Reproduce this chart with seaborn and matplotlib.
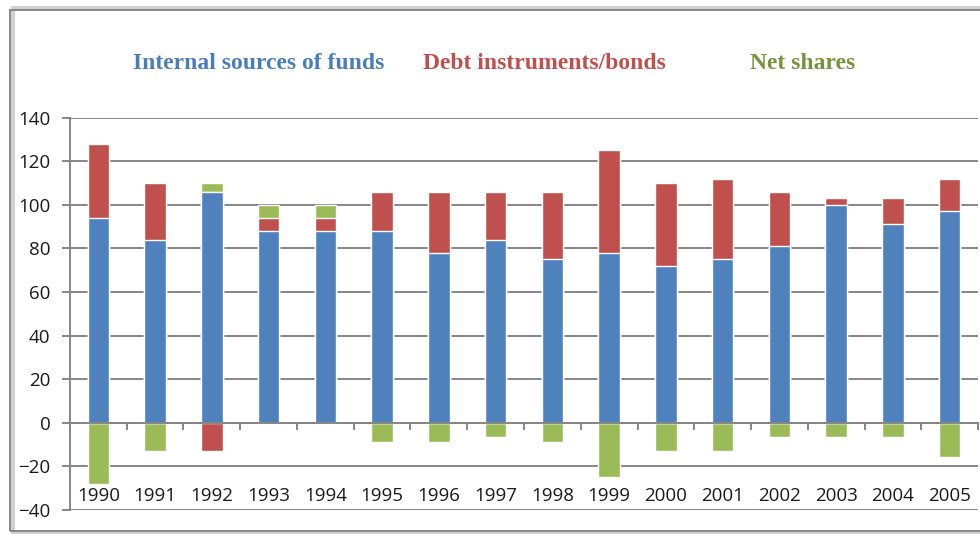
import numpy as np
import pandas as pd
import seaborn as sns
import matplotlib.pyplot as plt
from matplotlib.patches import Rectangle
from matplotlib.ticker import MultipleLocator


# values
years = [str(y) for y in range(1990, 2006)]
internal = [94, 84, 106, 88, 88, 88, 78, 84, 75, 78, 72, 75, 81, 100, 91, 97]
debt = [34, 26, -13, 6, 6, 18, 28, 22, 31, 47, 38, 37, 25, 3, 12, 15]
shares = [-28, -13, 4, 6, 6, -9, -9, -6.5, -9, -25, -13, -13, -6.5, -6.5, -6.5, -15.5]

series = ["Internal sources of funds", "Debt instruments/bonds", "Net shares"]
bar_colors = ["#4F81BD", "#C0504D", "#9BBB59"]
text_colors = ["#4A7EBB", "#C0504D", "#77933C"]

df = pd.DataFrame({"year": years, "internal": internal, "debt": debt, "shares": shares})

# stacked bars drawn as nested cumulative bars, outermost first
df["pos_red"] = df["internal"] + df["debt"].clip(lower=0)
df["pos_green"] = df["pos_red"] + df["shares"].clip(lower=0)
df["neg_red"] = df["debt"].clip(upper=0)
df["neg_green"] = df["neg_red"] + df["shares"].clip(upper=0)

layers = [("pos_green", bar_colors[2]), ("pos_red", bar_colors[1]), ("internal", bar_colors[0]),
          ("neg_green", bar_colors[2]), ("neg_red", bar_colors[1])]

sns.set_theme(style="white")
plt.rcParams["font.family"] = ["Open Sans", "DejaVu Sans"]

fig = plt.figure(figsize=(9.8, 5.34), dpi=100)
ax = fig.add_axes([0.0714, 0.0449, 0.9266, 0.7347])

for col, c in layers:
    sns.barplot(data=df, x="year", y=col, color=c, width=0.38,
                errorbar=None, saturation=1, ax=ax, zorder=3)

ax.set_xlim(-0.5, len(years) - 0.5)
ax.set_ylim(-40, 140)
ax.yaxis.set_major_locator(MultipleLocator(20))
ax.grid(axis="y", color="#868686", linewidth=1.4, zorder=0)
ax.set_axisbelow(True)
ax.set_xlabel("")
ax.set_ylabel("")

for s in ["top", "right"]:
    ax.spines[s].set_visible(False)
ax.spines["left"].set_color("#868686")
ax.spines["left"].set_linewidth(1.4)
ax.spines["bottom"].set_position(("data", 0))
ax.spines["bottom"].set_color("#868686")
ax.spines["bottom"].set_linewidth(1.4)
ax.spines["bottom"].set_zorder(4)

ax.tick_params(axis="y", left=True, length=6, width=1.4, color="#868686",
               labelsize=13.5, labelcolor="#1a1a1a", pad=8)
ax.set_xticks(np.arange(len(years)))
ax.set_xticklabels(years)
ax.tick_params(axis="x", which="major", bottom=True, length=0, pad=46,
               labelsize=13.5, labelcolor="#1a1a1a")
ax.set_xticks(np.arange(len(years) + 1) - 0.5, minor=True)
ax.tick_params(axis="x", which="minor", bottom=True, length=5, width=1.4,
               color="#868686", direction="out")

# coloured series names across the top
for name, c, xc in zip(series, text_colors, [0.264, 0.556, 0.819]):
    fig.text(xc, 0.882, name, color=c, ha="center", va="center", fontsize=17,
             fontweight="bold", family="Liberation Serif")

# outer chart frame with a soft shadow
fig.patches.append(Rectangle((0.013, 0.0), 1.0, 0.985, transform=fig.transFigure,
                             fill=False, edgecolor="#d0d0d0", linewidth=3, zorder=0))
fig.patches.append(Rectangle((0.0105, 0.006), 1.0, 0.976, transform=fig.transFigure,
                             fill=False, edgecolor="#808080", linewidth=1.3, zorder=1))

fig.savefig("out.png", dpi=100)
